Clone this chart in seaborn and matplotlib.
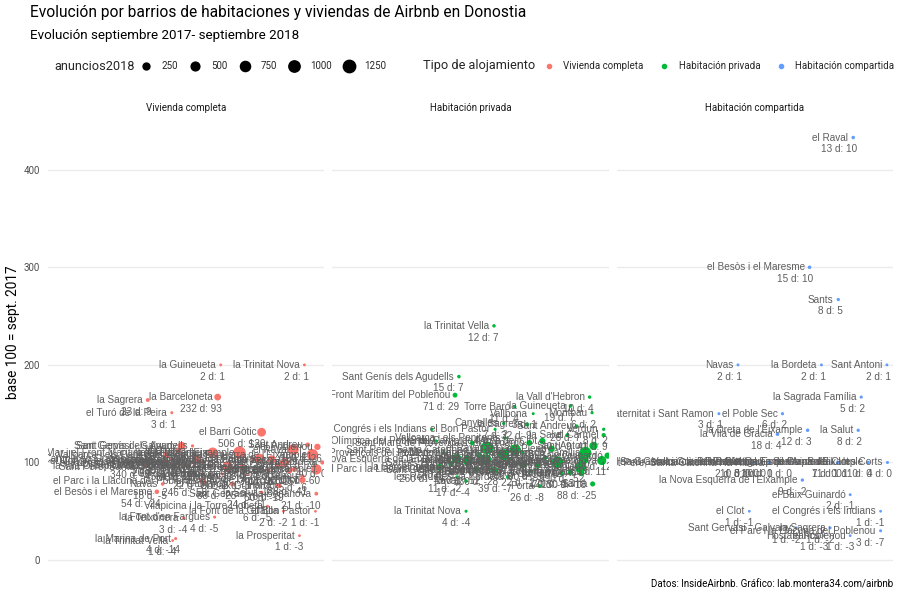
import numpy as np
import pandas as pd
import matplotlib
matplotlib.use('Agg')
import matplotlib.pyplot as plt
import seaborn as sns
from matplotlib.lines import Line2D

# ---------------------------------------------------------------- data
# Vivienda completa
vc_barrio = [
    "la Guineueta", "la Trinitat Nova", "la Sagrera", "la Barceloneta",
    "el Turó de la Peira", "les Roquetes", "el Barri Gòtic", "la Prosperitat",
    "la Marina de Port", "la Trinitat Vella", "la Font d'en Fargues", "la Teixonera",
    "el Besòs i el Maresme", "Navas", "la Salut", "Sant Gervasi - la Bonanova",
    "el Bon Pastor", "Vilapicina i la Torre Llobeta", "el Parc i la Llacuna del Poblenou",
    "el Camp de l'Arpa del Clot", "Horta", "la Font de la Guatlla",
    "Sant Genís dels Agudells", "Sant Gervasi - Galvany", "el Putxet i el Farró",
    "Vallcarca i els Penitents", "el Coll", "les Tres Torres", "el Carmel", "Can Baró",
    "Sarrià", "la Vila de Gràcia", "Sant Pere, Santa Caterina i la Ribera", "Porta",
    "la Clota", "el Guinardó", "la Dreta de l'Eixample", "el Fort Pienc",
    "la Sagrada Família", "Pedralbes", "el Poble Sec", "Sant Antoni", "Sants",
    "Hostafrancs", "el Raval", "Provençals del Poblenou", "l'Antiga Esquerra de l'Eixample",
    "el Poblenou", "la Nova Esquerra de l'Eixample", "la Bordeta",
    "Diagonal Mar i el Front Marítim del Poblenou", "el Baix Guinardó",
    "la Vila Olímpica del Poblenou", "el Camp d'en Grassot i Gràcia Nova", "Sants - Badal",
    "Sant Martí de Provençals", "el Congrés i els Indians", "el Clot",
    "la Maternitat i Sant Ramon", "les Corts", "la Verneda i la Pau", "Sant Andreu", "Montbau",
]
vc_x = [0.625, 0.928, 0.361, 0.614, 0.448, 1.01, 0.773, 0.910, 0.462, 0.451, 0.603, 0.491,
        0.394, 0.415, 0.773, 0.971, 0.968, 0.794, 0.560, 0.921, 0.827, 0.852,
        0.523, 0.484, 0.354, 0.430, 0.448, 0.426, 0.495, 0.520, 0.556, 0.596, 0.650, 0.560,
        0.632, 0.668, 0.693, 0.704, 0.765, 0.798, 0.809, 0.856, 0.874, 0.892, 0.888, 0.921,
        0.957, 0.975, 0.971, 0.993, 0.578, 0.838, 0.508, 0.540, 0.460, 0.590, 0.400, 0.470,
        0.740, 0.832, 0.720, 0.940, 0.375]
vc_base = [200, 200, 164, 167, 151, 167, 131, 25, 22, 20, 44, 43, 70, 78, 69, 68, 50, 55,
           81, 82, 77, 50, 117, 117, 99, 108, 103, 100, 97, 100, 101, 110, 96, 88, 88, 78,
           110, 95, 104, 92, 103, 100, 92, 93, 113, 86, 108, 116, 93, 100, 110, 76, 96, 104,
           97, 97, 101, 112, 103, 97, 88, 118, 103]
vc_n = [2, 2, 23, 232, 3, 5, 506, 1, 4, 1, 4, 3, 54, 18, 24, 21, 1, 6, 246, 186, 10, 2,
        7, 381, 340, 215, 35, 60, 64, 30, 110, 800, 780, 22, 7, 88, 1310, 290, 720, 30, 450,
        560, 170, 90, 860, 35, 1000, 190, 800, 40, 150, 60, 70, 420, 45, 25, 20, 150, 40,
        120, 8, 70, 3]
vc_d = [1, 1, 9, 93, 1, 2, 120, -3, -14, -4, -5, -4, -24, -5, -11, -10, -1, -5, -58, -41,
        -3, -2, 1, 56, -3, 16, 1, 0, -2, 0, 1, 73, -33, -3, -1, -25, 119, -15, 28, -3, 13,
        2, -15, -7, 99, -6, 74, 26, -60, 0, 14, -19, -3, 16, -1, -1, 0, 16, 1, -4, -1, 11, 0]

# Habitación privada
hp_barrio = [
    "la Trinitat Vella", "Sant Genís dels Agudells", "Diagonal Mar i el Front Marítim del Poblenou",
    "la Vall d'Hebron", "Torre Baró", "la Guineueta", "Vallbona", "Montbau", "Canyelles",
    "la Trinitat Nova", "el Congrés i els Indians", "el Bon Pastor", "Sant Andreu", "Verdun",
    "el Carmel", "la Sagrera", "el Camp de l'Arpa del Clot", "la Vila Olímpica del Poblenou",
    "Provençals del Poblenou", "la Nova Esquerra de l'Eixample", "Sants",
    "Sant Martí de Provençals", "el Raval", "el Poble Sec", "Sant Pere, Santa Caterina i la Ribera",
    "la Maternitat i Sant Ramon", "el Guinardó", "Hostafrancs", "el Fort Pienc",
    "la Dreta de l'Eixample", "la Salut", "l'Antiga Esquerra de l'Eixample", "la Sagrada Família",
    "la Vila de Gràcia", "el Camp d'en Grassot i Gràcia Nova", "el Baix Guinardó", "Sant Antoni",
    "les Corts", "Sarrià", "Sant Gervasi - Galvany", "Navas", "les Roquetes", "la Barceloneta",
    "Porta", "la Bordeta", "el Putxet i el Farró", "Sant Gervasi - la Bonanova",
    "Vallcarca i els Penitents", "Sants - Badal", "el Clot", "el Coll", "Pedralbes",
    "la Font de la Guatlla", "el Barri Gòtic", "el Poblenou", "Can Baró",
    "el Parc i la Llacuna del Poblenou", "la Verneda i la Pau",
]
hp_x = [0.585, 0.458, 0.444, 0.931, 0.660, 0.862, 0.727, 0.940, 0.620, 0.484, 0.360, 0.589,
        0.884, 0.982, 0.982, 0.705, 0.760, 0.375, 0.404, 0.450, 0.490, 0.506, 0.560, 0.556,
        0.662, 0.687, 0.713, 0.742, 0.793, 0.815, 0.851, 0.898, 0.916, 0.909, 0.975, 0.996,
        0.945, 0.902, 0.942, 0.585, 0.484, 0.451, 0.389, 0.749, 0.636, 0.829, 0.862, 0.625,
        0.430, 0.530, 0.640, 0.770, 0.800, 0.620, 0.690, 0.420, 0.520, 0.720]
hp_base = [240, 188, 169, 167, 157, 158, 150, 151, 140, 50, 134, 134, 137, 134, 128, 139,
           122, 122, 110, 104, 102, 120, 115, 103, 113, 110, 120, 97, 114, 100, 128, 95, 110,
           103, 102, 107, 117, 89, 78, 92, 81, 85, 95, 76, 85, 89, 90, 125, 99, 108, 104, 105,
           99, 108, 98, 103, 93, 91]
hp_n = [12, 15, 71, 10, 11, 19, 3, 6, 7, 4, 8, 4, 26, 8, 41, 32, 180, 11, 21, 640, 720, 60,
        1350, 880, 950, 45, 150, 90, 210, 1200, 40, 990, 1100, 660, 560, 180, 420, 150, 88,
        330, 17, 11, 260, 26, 39, 70, 120, 14, 140, 120, 26, 60, 45, 980, 380, 30, 160, 22]
hp_d = [7, 7, 29, 4, 4, 7, 1, 2, 2, -4, 2, 1, 7, 2, 9, 9, 32, 2, 2, 25, 14, 10, 176, 26, 109,
        4, 25, -3, 26, 2, 9, -52, 100, 19, 11, 12, 61, -18, -25, -28, -4, -2, -14, -8, -7,
        -9, -13, 3, -1, 9, 1, 3, 0, 72, -8, 1, -12, -2]

# Habitación compartida
hc_barrio = [
    "el Raval", "el Besòs i el Maresme", "Sants", "Navas", "la Bordeta", "Sant Antoni",
    "la Sagrada Família", "la Maternitat i Sant Ramon", "el Poble Sec", "la Dreta de l'Eixample",
    "la Vila de Gràcia", "la Salut", "el Camp d'en Grassot i Gràcia Nova",
    "Sant Gervasi - la Bonanova", "el Fort Pienc", "Vallcarca i els Penitents",
    "Sant Pere, Santa Caterina i la Ribera", "el Putxet i el Farró", "el Guinardó",
    "Sants - Badal", "el Camp de l'Arpa del Clot", "l'Antiga Esquerra de l'Eixample",
    "les Corts", "la Nova Esquerra de l'Eixample", "el Baix Guinardó", "el Clot",
    "el Congrés i els Indians", "el Parc i la Llacuna del Poblenou", "Sant Gervasi - Galvany",
    "la Sagrera", "Hostafrancs", "el Poblenou",
]
hc_x = [0.856, 0.698, 0.802, 0.439, 0.741, 0.978, 0.885, 0.370, 0.600, 0.691, 0.582, 0.874,
        0.433, 0.470, 0.500, 0.525, 0.550, 0.620, 0.780, 0.800, 0.860, 0.910, 0.980, 0.672,
        0.845, 0.480, 0.955, 0.955, 0.650, 0.773, 0.750, 0.845]
hc_base = [433, 300, 267, 200, 200, 200, 167, 150, 150, 133, 129, 133, 100, 100, 100, 100,
           100, 100, 100, 100, 100, 100, 100, 82, 67, 50, 50, 30, 33, 33, 25, 25]
hc_n = [13, 15, 8, 2, 2, 2, 5, 3, 6, 12, 18, 8, 2, 10, 3, 1, 10, 1, 7, 11, 1, 11, 4, 9, 2,
        1, 1, 3, 1, 1, 1, 1]
hc_d = [10, 10, 5, 1, 1, 1, 2, 1, 2, 3, 4, 2, 0, 0, 0, 0, 0, 0, 0, 0, 0, 0, 0, -2, -1, -1,
        -1, -7, -2, -2, -3, -3]

TIPOS = ['Vivienda completa', 'Habitación privada', 'Habitación compartida']
COLORS = {'Vivienda completa': '#F8766D',
          'Habitación privada': '#00BA38',
          'Habitación compartida': '#619CFF'}
SIZE_BREAKS = [250, 500, 750, 1000, 1250]

# ---------------------------------------------------------------- style
sns.set_theme(style='white')
COND = ['Liberation Sans Narrow', 'Roboto', 'DejaVu Sans']
LABEL_FONT = ['Liberation Sans', 'DejaVu Sans']
plt.rcParams['font.family'] = COND
LABEL_COLOR = '#5E5E5E'


def diam_pt(n):
    # marker diameter in points, area grows with the number of listings
    return (2.5 + 0.28 * np.sqrt(np.asarray(n, dtype=float))) * 0.72


frames = []
for tipo, b, x, base, n, d in zip(
    TIPOS,
    [vc_barrio, hp_barrio, hc_barrio],
    [vc_x, hp_x, hc_x],
    [vc_base, hp_base, hc_base],
    [vc_n, hp_n, hc_n],
    [vc_d, hp_d, hc_d],
):
    frames.append(pd.DataFrame({'tipo': tipo, 'barrio': b, 'x': x,
                                'base': base, 'n': n, 'd': d}))
df = pd.concat(frames, ignore_index=True)

fig, axes = plt.subplots(1, 3, figsize=(9, 6), dpi=100, sharey=True,
                         gridspec_kw={'wspace': 0.029})
fig.subplots_adjust(left=48 / 900, right=893 / 900,
                    top=1 - 119 / 600, bottom=1 - 562 / 600)

for ax, tipo in zip(axes, TIPOS):
    sub = df[df['tipo'] == tipo]
    sns.scatterplot(x=sub['x'].values, y=sub['base'].values,
                    s=diam_pt(sub['n'].values) ** 2,
                    color=COLORS[tipo], edgecolor='none', linewidth=0,
                    legend=False, ax=ax, zorder=3)
    for _, r in sub.iterrows():
        ax.annotate(r['barrio'], (r['x'], r['base']), xytext=(-3.5, 0),
                    textcoords='offset points', ha='right', va='center',
                    fontsize=7.2, color=LABEL_COLOR, family=LABEL_FONT,
                    clip_on=True, zorder=4)
        ax.annotate(f"{r['n']} d: {r['d']}", (r['x'], r['base']), xytext=(3, -8.5),
                    textcoords='offset points', ha='right', va='center',
                    fontsize=7.2, color=LABEL_COLOR, family=LABEL_FONT,
                    clip_on=True, zorder=4)

    ax.set_xlim(0, 1)
    ax.set_ylim(-2, 452)
    ax.set_yticks([0, 100, 200, 300, 400])
    ax.set_xticks([])
    ax.set(xlabel='', ylabel='')
    ax.grid(axis='y', color='#EBEBEB', linewidth=1)
    ax.set_axisbelow(True)
    for sp in ax.spines.values():
        sp.set_visible(False)
    ax.tick_params(axis='y', length=0, labelsize=7, labelcolor='#4D4D4D', pad=6)
    ax.set_title(tipo, fontsize=7, color='#1A1A1A', pad=6)

# ---------------------------------------------------------------- texts
fig.text(30 / 900, 1 - 13 / 600,
         'Evolución por barrios de habitaciones y viviendas de Airbnb en Donostia',
         fontsize=11.2, va='center', ha='left', color='black')
fig.text(30 / 900, 1 - 35 / 600, 'Evolución septiembre 2017- septiembre 2018',
         fontsize=9.6, va='center', ha='left', color='black')
fig.text(13 / 900, 1 - 332 / 600, 'base 100 = sept. 2017', rotation=90,
         fontsize=9.8, va='center', ha='center', color='black')
fig.text(893 / 900, 1 - 585 / 600,
         'Datos: InsideAirbnb. Gráfico: lab.montera34.com/airbnb',
         fontsize=7, va='center', ha='right', color='black')

# legends
fig.text(54 / 900, 1 - 66 / 600, 'anuncios2018', fontsize=9.2, va='center', ha='left')
size_handles = [Line2D([], [], marker='o', ls='', color='black', markersize=diam_pt(v))
                for v in SIZE_BREAKS]
fig.legend(size_handles, [str(v) for v in SIZE_BREAKS], loc='center left',
           bbox_to_anchor=(141 / 900, 1 - 66 / 600), ncol=5, frameon=False,
           fontsize=7, handlelength=1, handletextpad=1.1, columnspacing=1.3,
           borderpad=0, borderaxespad=0)

fig.text(423 / 900, 1 - 66 / 600, 'Tipo de alojamiento', fontsize=9.2,
         va='center', ha='left')
tipo_handles = [Line2D([], [], marker='o', ls='', color=COLORS[t], markersize=3)
                for t in TIPOS]
fig.legend(tipo_handles, TIPOS, loc='center left',
           bbox_to_anchor=(544 / 900, 1 - 66 / 600), ncol=3, frameon=False,
           fontsize=7, handlelength=1, handletextpad=1.0, columnspacing=1.6,
           borderpad=0, borderaxespad=0)

fig.savefig('out.png', dpi=100)
